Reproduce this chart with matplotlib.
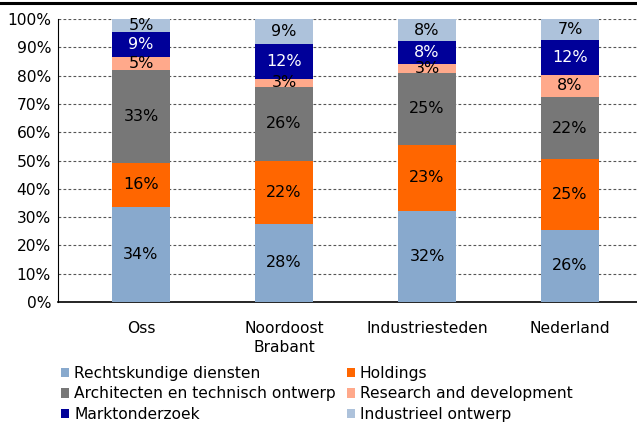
import matplotlib
matplotlib.use("Agg")
import matplotlib.pyplot as plt
from matplotlib.lines import Line2D
from matplotlib.patches import Patch
import numpy as np

categories = ["Oss", "Noordoost\nBrabant", "Industriesteden", "Nederland"]
series_names = ["Rechtskundige diensten", "Holdings", "Architecten en technisch ontwerp",
                "Research and development", "Marktonderzoek", "Industrieel ontwerp"]
rechtskundig = [33.6, 27.6, 32.2, 25.6]
holdings = [15.6, 22.2, 23.4, 24.8]
architecten = [32.9, 26.3, 25.2, 22.1]
research = [4.6, 2.7, 3.3, 7.7]
marktonderzoek = [8.7, 12.3, 8.1, 12.3]
industrieel = [4.6, 8.9, 7.8, 7.4]
yticks = [0, 10, 20, 30, 40, 50, 60, 70, 80, 90, 100]

colors = ["#88A9CD", "#FF6600", "#777777", "#FFA98B", "#000099", "#ADC2DB"]
text_colors = ["black", "black", "black", "black", "white", "black"]

series = [rechtskundig, holdings, architecten, research, marktonderzoek, industrieel]

fig = plt.figure(figsize=(6.37, 4.23), dpi=100)
ax = fig.add_axes([58 / 637, (423 - 302) / 423, 595 / 637, 283 / 423])

x = np.arange(len(categories))
bottom = np.zeros(len(categories))
for vals, col, tcol in zip(series, colors, text_colors):
    vals = np.array(vals)
    ax.bar(x, vals, 0.4, bottom=bottom, color=col, edgecolor="none", zorder=3)
    for xi, b, v in zip(x, bottom, vals):
        ax.text(xi, b + v / 2, f"{round(v):d}%", ha="center", va="center",
                color=tcol, fontsize=11.5, zorder=4)
    bottom += vals

ax.set_xlim(-0.58, 3.58)
ax.set_ylim(0, 100)
ax.set_yticks(yticks)
ax.set_yticklabels([f"{t}%" for t in yticks], fontsize=11.2)
ax.set_xticks(x)
ax.set_xticklabels(categories, fontsize=11.2, linespacing=1.3)
ax.tick_params(axis="both", length=0)
ax.tick_params(axis="x", pad=14)
ax.tick_params(axis="y", pad=5)
ax.yaxis.grid(True, linestyle=(0, (2.5, 2)), color="#555555", linewidth=0.8, zorder=0)
for s in ["top", "right"]:
    ax.spines[s].set_visible(False)
ax.spines["left"].set_color("black")
ax.spines["bottom"].set_color("black")
ax.spines["bottom"].set_linewidth(1.2)

order = [0, 2, 4, 1, 3, 5]
handles = [Patch(facecolor=colors[i], edgecolor="none") for i in order]
labels = [series_names[i] for i in order]
fig.legend(handles, labels, ncol=2, loc="upper left", bbox_to_anchor=(53 / 637, 1 - 358 / 423),
           frameon=False, fontsize=11.2, handlelength=0.55, handleheight=0.55,
           handletextpad=0.3, columnspacing=0.7, labelspacing=0.36, borderpad=0)

fig.add_artist(Line2D([0, 1], [1 - 3.5 / 423, 1 - 3.5 / 423], transform=fig.transFigure,
                      color="black", linewidth=2.2))

fig.savefig("out.png", dpi=100)
